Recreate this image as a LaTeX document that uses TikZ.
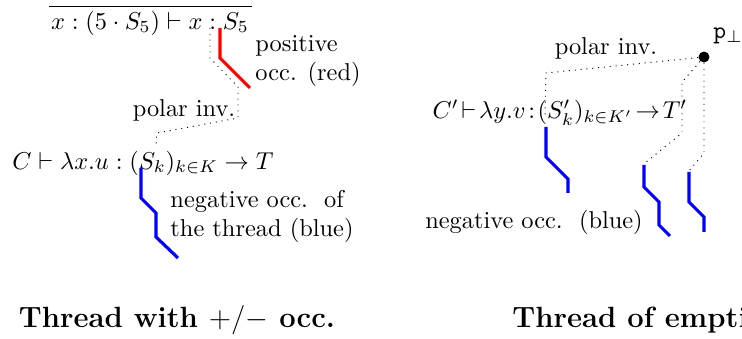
\documentclass[tikz,border=0pt]{standalone}
\usepackage{amsmath}
\usetikzlibrary{arrows.meta,positioning}

\begin{document}
\begin{tikzpicture}[x=0.41pt,y=-0.41pt,
  txt/.style={inner sep=0pt,align=left},
  capt/.style={inner sep=0pt,font=\large\bfseries},
  posocc/.style={red,line width=1.3pt},
  negocc/.style={blue,line width=1.3pt},
  polar/.style={dotted,thin}]
\useasboundingbox (0,0) rectangle (742,339);
\clip (0,0) rectangle (742,339);
% left picture: thread with positive and negative occurrences
\node[txt] (seqtop) at (150,23) {$x : (5\cdot S_5) \vdash x : S_5$};
\coordinate (rulel) at (49,6);
\coordinate (ruler) at (252,6);
\draw (rulel) -- (ruler);
\node[txt,anchor=north west] (posl) at (255,35) {positive\\occ. (red)};
\node[txt] (polarl) at (184,110) {polar inv.};
\node[txt] (seqbot) at (143,163) {$C \vdash \lambda x.u : (S_k)_{k\in K} \to T$};
\node[txt,anchor=north west] (negl) at (170,190) {negative occ.\ \ of\\the thread (blue)};
\coordinate (redtop) at (220,28);
\coordinate (bluetop) at (141,168);
\coordinate (poltop) at (210,28);
\coordinate (polend) at (156,146);
\draw[posocc] (redtop) -- ++(0,30) -- ++(30,30);
\draw[negocc] (bluetop) -- ++(0,30) -- ++(15,15) -- ++(0,24) -- ++(22,21);
\draw[polar] (poltop) -- ++(0,30) -- ++(28,29) -- ++(0,31) -- (157,133) -- (polend);
\node[capt] (capl) at (177,320) {Thread with $+/-$ occ.};
% right picture: thread of emptiness
\node[circle,fill,inner sep=0pt,minimum size=4.5pt] (pbot) at (704,57) {};
\node[txt,anchor=west] (pname) at (713,36) {$\mathtt{p}_\perp$};
\node[txt] (polarr) at (606,48) {polar inv.};
\node[txt] (seqr) at (560,113) {$C'\!\vdash\!\lambda y.v\!:\!(S'_k)_{k\in K'}\!\to\!T'$};
\node[txt] (negr) at (534,222) {negative occ.\ \ (blue)};
\coordinate (enda) at (545,117);
\coordinate (endb) at (645,163);
\coordinate (endc) at (689,171);
\coordinate (blua) at (546,127);
\coordinate (blub) at (644,165);
\coordinate (bluc) at (689,172);
\draw[polar] (pbot) -- (546,73) -- (enda);
\draw[polar] (pbot) -- (682,82) -- (682,133) -- (endb);
\draw[polar] (pbot) -- (704,153) -- (endc);
\draw[negocc] (blua) -- ++(0,30) -- ++(22,22) -- ++(0,14);
\draw[negocc] (blub) -- ++(0,22) -- ++(15,15) -- ++(0,23) -- ++(11,11);
\draw[negocc] (bluc) -- ++(0,30) -- ++(15,15) -- ++(0,15);
\node[capt,anchor=west] (capr) at (512,320) {Thread of emptiness};
\end{tikzpicture}
\end{document}
